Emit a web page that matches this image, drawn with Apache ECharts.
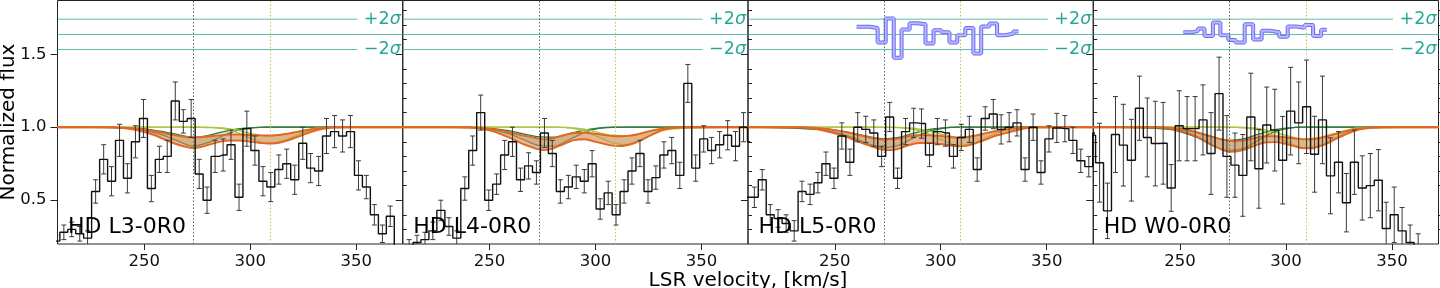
<!DOCTYPE html>
<html><head><meta charset="utf-8">
<script src="https://cdn.jsdelivr.net/npm/echarts@6/dist/echarts.min.js"></script>
<style>html,body{margin:0;padding:0;background:#fff}#c{width:1440px;height:288px}</style>
</head><body><div id="c"></div>
<script>
// ---------------- data ----------------
const panelNames = ['HD L3-0R0', 'HD L4-0R0', 'HD L5-0R0', 'HD W0-0R0'];
const xMajorTicks = [250, 300, 350];
const xMinorTicks = [210, 220, 230, 240, 260, 270, 280, 290, 310, 320, 330, 340, 360, 370];
const yMajorTicks = [0.5, 1.0, 1.5];
const yMinorTicks = [0.3, 0.4, 0.6, 0.7, 0.8, 0.9, 1.1, 1.2, 1.3, 1.4, 1.6, 1.7, 1.8];
const xRange = [209, 372];
const yRange = [0.2, 1.868];
const compCenters = [273.3, 309.4];
const resZero = 1.635, resPlus2 = 1.74, resMinus2 = 1.532, sigmaLineEnd = 350.5;
const sigmaLabels = ['+2{i|σ}', '\u22122{i|σ}'];

const velocity = [208.2, 212.0, 215.7, 219.5, 223.2, 227.0, 230.8, 234.5, 238.3, 242.0, 245.8, 249.6, 253.3, 257.1, 260.8, 264.6, 268.4, 272.1, 275.9, 279.6, 283.4, 287.2, 290.9, 294.7, 298.4, 302.2, 306.0, 309.7, 313.5, 317.2, 321.0, 324.8, 328.5, 332.3, 336.0, 339.8, 343.6, 347.3, 351.1, 354.8, 358.6, 362.4, 366.1, 369.9, 373.6];

const fluxL3 = [0.22, 0.28, 0.30, 0.27, 0.24, 0.56, 0.78, 0.63, 0.91, 0.65, 0.90, 1.06, 0.58, 0.78, 0.80, 1.18, 1.04, 1.06, 0.68, 0.50, 0.80, 0.81, 0.88, 0.52, 0.99, 0.84, 0.63, 0.59, 0.71, 0.75, 0.64, 0.89, 0.72, 0.70, 0.94, 0.97, 0.94, 0.97, 0.67, 0.59, 0.40, 0.27, 0.39, 0.12, 0.10];
const errL3 = [0.04, 0.05, 0.05, 0.05, 0.05, 0.08, 0.10, 0.10, 0.11, 0.10, 0.11, 0.13, 0.09, 0.09, 0.11, 0.13, 0.08, 0.13, 0.10, 0.09, 0.11, 0.11, 0.10, 0.09, 0.12, 0.10, 0.10, 0.10, 0.10, 0.10, 0.10, 0.11, 0.10, 0.10, 0.12, 0.11, 0.11, 0.11, 0.10, 0.08, 0.07, 0.06, 0.07, 0.05, 0.05];

const fluxL4 = [0.17, 0.19, 0.21, 0.23, 0.29, 0.43, 0.32, 0.24, 0.58, 0.84, 1.10, 0.50, 0.61, 0.81, 0.90, 0.64, 0.735, 0.69, 0.96, 0.82, 0.56, 0.59, 0.66, 0.63, 0.75, 0.44, 0.55, 0.40, 0.56, 0.70, 0.82, 0.56, 0.655, 0.81, 0.84, 0.67, 1.30, 0.72, 0.92, 0.84, 0.88, 0.945, 0.87, 1.00, 0.90];
const errL4 = [0.04, 0.04, 0.05, 0.05, 0.06, 0.07, 0.06, 0.05, 0.08, 0.10, 0.12, 0.07, 0.07, 0.10, 0.10, 0.08, 0.09, 0.08, 0.10, 0.09, 0.08, 0.08, 0.08, 0.08, 0.09, 0.07, 0.08, 0.07, 0.08, 0.09, 0.09, 0.08, 0.08, 0.09, 0.09, 0.09, 0.13, 0.09, 0.09, 0.09, 0.09, 0.10, 0.10, 0.10, 0.10];

const fluxL5 = [0.52, 0.52, 0.64, 0.40, 0.375, 0.34, 0.29, 0.56, 0.54, 0.62, 0.75, 0.65, 0.94, 0.76, 1.00, 0.985, 0.96, 0.80, 1.07, 0.65, 0.97, 1.03, 1.025, 0.81, 0.97, 0.96, 0.80, 0.93, 0.985, 0.71, 1.06, 1.09, 0.985, 1.00, 1.03, 0.71, 1.00, 0.69, 0.92, 0.995, 0.99, 0.91, 0.77, 0.73, 0.96];
const errL5 = [0.06, 0.07, 0.07, 0.07, 0.06, 0.06, 0.07, 0.07, 0.07, 0.07, 0.08, 0.07, 0.09, 0.09, 0.10, 0.09, 0.09, 0.07, 0.10, 0.07, 0.09, 0.10, 0.10, 0.08, 0.09, 0.09, 0.08, 0.09, 0.09, 0.08, 0.08, 0.10, 0.10, 0.10, 0.09, 0.08, 0.09, 0.08, 0.09, 0.10, 0.09, 0.09, 0.08, 0.07, 0.09];

const fluxW0 = [0.945, 0.757, 0.427, 0.95, 0.877, 0.774, 1.13, 0.93, 0.888, 0.89, 0.584, 1.01, 0.99, 0.99, 1.05, 0.82, 1.23, 0.80, 0.74, 0.67, 1.07, 0.715, 1.015, 0.98, 0.774, 1.11, 1.03, 1.14, 0.815, 1.05, 0.667, 0.76, 0.483, 0.76, 0.584, 0.60, 0.637, 0.306, 0.40, 0.29, 0.21, 0.17, 0.10, 0.10, 0.10];
const errW0 = [0.15, 0.27, 0.19, 0.26, 0.28, 0.28, 0.22, 0.27, 0.29, 0.28, 0.16, 0.24, 0.22, 0.22, 0.24, 0.28, 0.25, 0.28, 0.22, 0.28, 0.30, 0.27, 0.26, 0.28, 0.30, 0.30, 0.28, 0.32, 0.26, 0.30, 0.26, 0.21, 0.20, 0.22, 0.22, 0.22, 0.21, 0.18, 0.19, 0.16, 0.12, 0.10, 0.05, 0.05, 0.05];

// total model band (lower / upper envelope)
const modelVel = [209, 225, 230, 235, 240, 245, 250, 255, 260, 265, 270, 273, 276, 280, 285, 290, 295, 300, 305, 308, 312, 316, 320, 325, 330, 335, 340, 345, 350, 372];
const totLoL3 = [1, 1, 1, 0.999, 0.994, 0.984, 0.967, 0.945, 0.914, 0.885, 0.864, 0.858, 0.862, 0.878, 0.898, 0.908, 0.908, 0.901, 0.892, 0.888, 0.890, 0.903, 0.921, 0.948, 0.973, 0.991, 0.999, 1, 1, 1];
const totHiL3 = [1, 1, 1, 1, 0.997, 0.991, 0.983, 0.972, 0.958, 0.944, 0.933, 0.930, 0.931, 0.936, 0.944, 0.950, 0.950, 0.947, 0.944, 0.943, 0.945, 0.952, 0.962, 0.976, 0.988, 0.997, 1, 1, 1, 1];
const totLoL4 = [1, 1, 1, 1, 0.999, 0.993, 0.978, 0.955, 0.925, 0.890, 0.863, 0.848, 0.843, 0.855, 0.885, 0.912, 0.918, 0.900, 0.882, 0.874, 0.871, 0.882, 0.902, 0.937, 0.972, 0.990, 0.999, 1, 1, 1];
const totHiL4 = [1, 1, 1, 1, 1, 0.997, 0.990, 0.978, 0.962, 0.946, 0.932, 0.922, 0.917, 0.925, 0.945, 0.960, 0.962, 0.955, 0.945, 0.940, 0.938, 0.942, 0.952, 0.972, 0.987, 0.997, 1, 1, 1, 1];
const totLoL5 = [1, 1, 1, 0.997, 0.990, 0.976, 0.958, 0.935, 0.908, 0.880, 0.855, 0.845, 0.843, 0.852, 0.878, 0.892, 0.893, 0.885, 0.874, 0.870, 0.872, 0.888, 0.908, 0.937, 0.958, 0.976, 0.993, 1, 1, 1];
const totHiL5 = [1, 1, 1, 1, 0.997, 0.990, 0.980, 0.967, 0.952, 0.935, 0.920, 0.916, 0.917, 0.922, 0.938, 0.945, 0.945, 0.940, 0.932, 0.929, 0.931, 0.942, 0.955, 0.970, 0.982, 0.992, 0.998, 1, 1, 1];
const totLoW0 = [1, 1, 1, 1, 0.998, 0.990, 0.975, 0.953, 0.920, 0.878, 0.845, 0.832, 0.833, 0.845, 0.872, 0.895, 0.898, 0.885, 0.866, 0.856, 0.856, 0.870, 0.893, 0.930, 0.962, 0.985, 0.996, 1, 1, 1];
const totHiW0 = [1, 1, 1, 1, 1, 0.997, 0.990, 0.978, 0.958, 0.935, 0.915, 0.907, 0.906, 0.910, 0.925, 0.938, 0.938, 0.930, 0.922, 0.917, 0.917, 0.925, 0.940, 0.960, 0.978, 0.992, 0.999, 1, 1, 1];

// individual components (A near 273 km/s, B near 309 km/s)
const compVel = [209, 245, 258, 266, 273, 280, 287, 294, 301, 308, 316, 324, 334, 372];
const compALoL3 = [1, 0.990, 0.950, 0.905, 0.870, 0.894, 0.940, 0.978, 0.995, 1, 1, 1, 1, 1];
const compAHiL3 = [1, 0.995, 0.972, 0.949, 0.930, 0.943, 0.968, 0.988, 0.997, 1, 1, 1, 1, 1];
const compBLoL3 = [1, 1, 1, 1, 1, 0.998, 0.990, 0.962, 0.918, 0.890, 0.910, 0.955, 0.994, 1];
const compBHiL3 = [1, 1, 1, 1, 1, 0.999, 0.995, 0.980, 0.955, 0.940, 0.952, 0.975, 0.997, 1];
const compALoL4 = [1, 0.995, 0.960, 0.915, 0.875, 0.870, 0.910, 0.960, 0.990, 0.999, 1, 1, 1, 1];
const compAHiL4 = [1, 0.997, 0.978, 0.955, 0.935, 0.932, 0.952, 0.978, 0.994, 1, 1, 1, 1, 1];
const compBLoL4 = [1, 1, 1, 1, 1, 1, 0.996, 0.978, 0.935, 0.893, 0.880, 0.930, 0.985, 1];
const compBHiL4 = [1, 1, 1, 1, 1, 1, 0.998, 0.988, 0.965, 0.945, 0.940, 0.965, 0.993, 1];
const compALoL5 = [1, 0.980, 0.930, 0.885, 0.860, 0.875, 0.925, 0.970, 0.993, 1, 1, 1, 1, 1];
const compAHiL5 = [1, 0.990, 0.960, 0.935, 0.920, 0.930, 0.958, 0.984, 0.996, 1, 1, 1, 1, 1];
const compBLoL5 = [1, 1, 1, 1, 1, 0.997, 0.985, 0.955, 0.910, 0.875, 0.895, 0.945, 0.990, 1];
const compBHiL5 = [1, 1, 1, 1, 1, 0.999, 0.993, 0.975, 0.950, 0.930, 0.940, 0.970, 0.996, 1];
const compALoW0 = [1, 0.985, 0.930, 0.870, 0.840, 0.855, 0.910, 0.965, 0.992, 1, 1, 1, 1, 1];
const compAHiW0 = [1, 0.993, 0.962, 0.930, 0.910, 0.920, 0.952, 0.982, 0.996, 1, 1, 1, 1, 1];
const compBLoW0 = [1, 1, 1, 1, 1, 0.996, 0.982, 0.945, 0.895, 0.860, 0.875, 0.935, 0.988, 1];
const compBHiW0 = [1, 1, 1, 1, 1, 0.998, 0.990, 0.970, 0.940, 0.920, 0.930, 0.962, 0.995, 1];

// residuals (blue, shown on the residual scale around resZero)
const resEdgesL5 = [260.3, 266.5, 270.2, 274.0, 277.8, 281.5, 285.3, 289.0, 292.8, 296.6, 300.3, 304.1, 307.8, 311.6, 315.4, 319.1, 322.9, 326.6, 330.4, 334.2, 336.7];
const resValsL5 = [1.688, 1.680, 1.580, 1.745, 1.475, 1.670, 1.712, 1.705, 1.573, 1.664, 1.650, 1.580, 1.630, 1.680, 1.505, 1.690, 1.710, 1.630, 1.640, 1.655];
const resEdgesW0 = [251.5, 255.5, 258.5, 261.5, 265.5, 269.0, 272.8, 276.2, 280.5, 284.5, 288.5, 292.8, 296.8, 300.8, 304.8, 308.8, 312.8, 316.6, 319.3];
const resValsW0 = [1.650, 1.660, 1.676, 1.625, 1.717, 1.630, 1.598, 1.580, 1.705, 1.600, 1.660, 1.650, 1.620, 1.690, 1.682, 1.700, 1.625, 1.668];

// ---------------- layout / style ----------------
const FONT = 'DejaVu Sans';
const gridLeft = 57.5, gridW = 345.25, gridTop = 0.5, gridH = 243.5;
const C = {
  orange: '#e4661f', orangeFill: 'rgba(208,140,85,0.6)',
  compA: '#2f7a3a', compAFill: 'rgba(47,122,58,0.18)',
  compB: '#a9c63c', compBFill: 'rgba(169,198,60,0.18)',
  dotA: '#51705a', dotB: '#c5c45c',
  teal: 'rgba(45,165,150,0.75)', tealText: '#27a895',
  resOuter: '#6b6bf3', resInner: '#b8b8fd',
  ink: '#111'
};

const panels = [
  {flux: fluxL3, err: errL3, lo: totLoL3, hi: totHiL3, aLo: compALoL3, aHi: compAHiL3, bLo: compBLoL3, bHi: compBHiL3},
  {flux: fluxL4, err: errL4, lo: totLoL4, hi: totHiL4, aLo: compALoL4, aHi: compAHiL4, bLo: compBLoL4, bHi: compBHiL4},
  {flux: fluxL5, err: errL5, lo: totLoL5, hi: totHiL5, aLo: compALoL5, aHi: compAHiL5, bLo: compBLoL5, bHi: compBHiL5, rE: resEdgesL5, rV: resValsL5},
  {flux: fluxW0, err: errW0, lo: totLoW0, hi: totHiW0, aLo: compALoW0, aHi: compAHiW0, bLo: compBLoW0, bHi: compBHiW0, rE: resEdgesW0, rV: resValsW0}
];

const grids = [], xAxes = [], yAxes = [], series = [], graphics = [];

panels.forEach((p, i) => {
  const left = gridLeft + i * gridW;
  grids.push({left: left, top: gridTop, width: gridW, height: gridH, show: true,
    borderColor: '#222', borderWidth: 1, backgroundColor: 'transparent'});
  const axBase = {type: 'value', gridIndex: i, min: xRange[0], max: xRange[1],
    axisLine: {show: false}, splitLine: {show: false}};
  xAxes.push(Object.assign({}, axBase, {
    axisTick: {show: true, customValues: xMajorTicks, length: 6, lineStyle: {color: '#222', width: 1}},
    axisLabel: {show: true, customValues: xMajorTicks, fontSize: 16.5, fontFamily: FONT, color: C.ink, margin: 9}
  }));
  xAxes.push(Object.assign({}, axBase, {
    axisTick: {show: true, customValues: xMinorTicks, length: 3.5, lineStyle: {color: '#222', width: 1}},
    axisLabel: {show: false}
  }));
  const ayBase = {type: 'value', gridIndex: i, min: yRange[0], max: yRange[1],
    axisLine: {show: false}, splitLine: {show: false}};
  yAxes.push(Object.assign({}, ayBase, {
    axisTick: {show: true, customValues: yMajorTicks, length: 7, lineStyle: {color: '#222', width: 1}},
    axisLabel: {show: i === 0, customValues: yMajorTicks, fontSize: 16.5, fontFamily: FONT, color: C.ink, margin: 11,
      formatter: v => v.toFixed(1)}
  }));
  yAxes.push(Object.assign({}, ayBase, {
    axisTick: {show: true, customValues: yMinorTicks, length: 4, lineStyle: {color: '#222', width: 1}},
    axisLabel: {show: false}
  }));

  const xi = 2 * i, yi = 2 * i;
  const base = {xAxisIndex: xi, yAxisIndex: yi, silent: true, animation: false, symbol: 'none'};

  // residual reference lines + component velocity markers
  series.push(Object.assign({}, base, {type: 'line', z: 1,
    data: [[xRange[0], resZero], [xRange[1], resZero]], lineStyle: {color: C.teal, width: 1},
    markLine: {silent: true, symbol: ['none', 'none'], label: {show: false}, animation: false,
      data: [
        {xAxis: compCenters[0], lineStyle: {color: C.dotA, type: [1.5, 2], width: 1}},
        {xAxis: compCenters[1], lineStyle: {color: C.dotB, type: [1.5, 2], width: 1}}
      ]}
  }));
  series.push(Object.assign({}, base, {type: 'line', z: 1,
    data: [[xRange[0], resPlus2], [sigmaLineEnd, resPlus2]], lineStyle: {color: C.teal, width: 1}}));
  series.push(Object.assign({}, base, {type: 'line', z: 1,
    data: [[xRange[0], resMinus2], [sigmaLineEnd, resMinus2]], lineStyle: {color: C.teal, width: 1}}));

  // sigma labels
  series.push(Object.assign({}, base, {type: 'custom', z: 8,
    data: [[xRange[1], resPlus2, 0], [xRange[1], resMinus2, 1]],
    renderItem: (params, api) => {
      const c = api.coord([api.value(0), api.value(1)]);
      return {type: 'text', x: c[0] - 2, y: c[1],
        style: {text: sigmaLabels[api.value(2)], fill: C.tealText, fontSize: 17.5, fontFamily: FONT,
          align: 'right', verticalAlign: 'middle',
          rich: {i: {fontStyle: 'italic', fontSize: 17.5, fontFamily: FONT, fill: C.tealText}}}};
    }}));

  // band helper: filled polygon between lo and hi, plus both edge lines
  function band(xs, lo, hi, color, fill, width, z) {
    series.push(Object.assign({}, base, {type: 'custom', z: z, clip: true,
      data: [[xs[0], lo[0]]],
      renderItem: (params, api) => {
        const pts = xs.map((x, k) => api.coord([x, hi[k]]));
        for (let k = xs.length - 1; k >= 0; k--) pts.push(api.coord([xs[k], lo[k]]));
        return {type: 'polygon', shape: {points: pts}, style: {fill: fill}};
      }}));
    [lo, hi].forEach(arr => {
      series.push(Object.assign({}, base, {type: 'line', z: z, smooth: 0.3,
        data: xs.map((x, k) => [x, arr[k]]), lineStyle: {color: color, width: width}}));
    });
  }
  band(compVel, p.aLo, p.aHi, C.compA, C.compAFill, 1.3, 2);
  band(compVel, p.bLo, p.bHi, C.compB, C.compBFill, 1.3, 2);
  band(modelVel, p.lo, p.hi, C.orange, C.orangeFill, 1.9, 3);

  // residual step
  if (p.rE) {
    const pts = [];
    p.rV.forEach((v, k) => { pts.push([p.rE[k], v]); pts.push([p.rE[k + 1], v]); });
    series.push(Object.assign({}, base, {type: 'line', z: 4, data: pts, lineStyle: {color: C.resOuter, width: 4}}));
    series.push(Object.assign({}, base, {type: 'line', z: 4, data: pts, lineStyle: {color: C.resInner, width: 2}}));
  }

  // error bars
  series.push(Object.assign({}, base, {type: 'custom', z: 5, clip: true,
    data: velocity.map((v, k) => [v, p.flux[k], p.err[k]]),
    renderItem: (params, api) => {
      const x = api.value(0), y = api.value(1), e = api.value(2);
      const t = api.coord([x, y + e]), b = api.coord([x, y - e]);
      const cap = 2.5, st = {stroke: '#3a3a3a', lineWidth: 1};
      return {type: 'group', children: [
        {type: 'line', shape: {x1: t[0], y1: t[1], x2: b[0], y2: b[1]}, style: st},
        {type: 'line', shape: {x1: t[0] - cap, y1: t[1], x2: t[0] + cap, y2: t[1]}, style: st},
        {type: 'line', shape: {x1: b[0] - cap, y1: b[1], x2: b[0] + cap, y2: b[1]}, style: st}
      ]};
    }}));

  // histogram
  series.push(Object.assign({}, base, {type: 'line', z: 6, step: 'middle',
    data: velocity.map((v, k) => [v, p.flux[k]]), lineStyle: {color: C.ink, width: 1.4}}));

  graphics.push({type: 'text', x: left + 10.5, y: 227, z: 100,
    style: {text: panelNames[i], font: '22px "DejaVu Sans"', fill: '#000', verticalAlign: 'middle'}});
});

graphics.push({type: 'text', x: 9, y: 122, rotation: Math.PI / 2, z: 100,
  style: {text: 'Normalized flux', font: '20px "DejaVu Sans"', fill: '#000', align: 'center', verticalAlign: 'middle'}});
graphics.push({type: 'text', x: 748, y: 281, z: 100,
  style: {text: 'LSR velocity, [km/s]', font: '20px "DejaVu Sans"', fill: '#000', align: 'center', verticalAlign: 'middle'}});

const chart = echarts.init(document.getElementById('c'), null, {renderer: 'canvas'});
chart.setOption({
  animation: false,
  backgroundColor: '#fff',
  grid: grids, xAxis: xAxes, yAxis: yAxes, series: series, graphic: graphics
});
</script></body></html>
